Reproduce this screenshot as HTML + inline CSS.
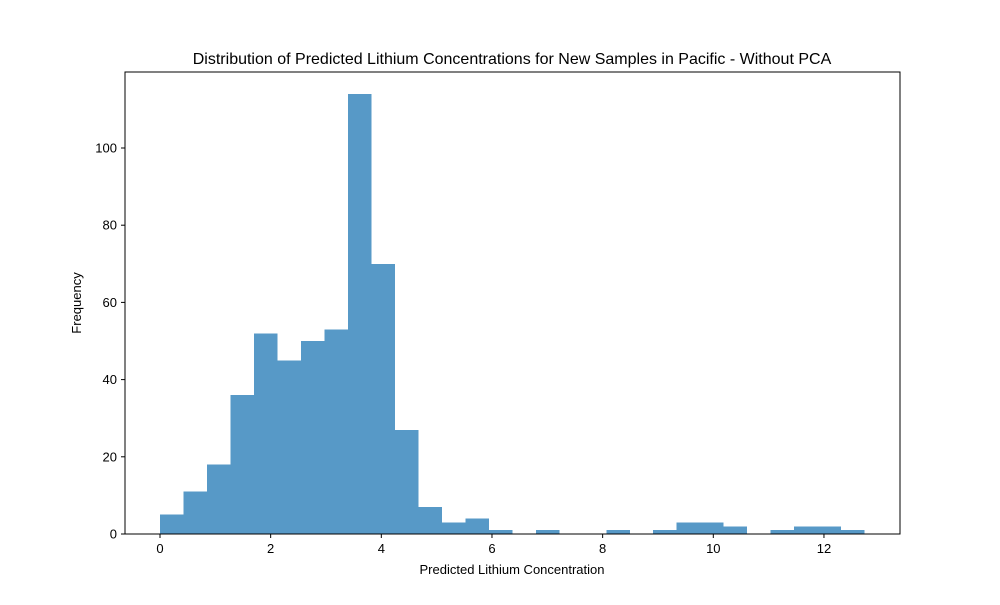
<!DOCTYPE html>
<html><head><meta charset="utf-8"><style>
body{margin:0;background:#fff;font-family:"Liberation Sans","DejaVu Sans",sans-serif}
</style></head><body>
<svg id="chart" width="1000" height="600" xmlns="http://www.w3.org/2000/svg">
<rect width="1000" height="600" fill="#fff"/>
<text x="512" y="64" text-anchor="middle" font-size="16">Distribution of Predicted Lithium Concentrations for New Samples in Pacific - Without PCA</text>
<g id="bars" shape-rendering="crispEdges"></g>
<rect x="125" y="72" width="775" height="462" fill="none" stroke="#000" stroke-width="1"/>
<g id="xt"></g><g id="yt"></g>
<text x="512" y="574" text-anchor="middle" font-size="13">Predicted Lithium Concentration</text>
<text transform="translate(81,303) rotate(-90)" text-anchor="middle" font-size="13">Frequency</text>
</svg>
<script>
const binStart = 0.0;
const binWidth = 0.4245;
const counts = [5,11,18,36,52,45,50,53,114,70,27,7,3,4,1,0,1,0,0,1,0,1,3,3,2,0,1,2,2,1];
const xTicks = [0,2,4,6,8,10,12];
const yTicks = [0,20,40,60,80,100];
const ns="http://www.w3.org/2000/svg";
const X=v=>160+v*55.33, Y=v=>534-v*3.86;
const bars=document.getElementById('bars');
counts.forEach((c,i)=>{
  if(!c) return;
  const r=document.createElementNS(ns,'rect');
  const x0=X(binStart+i*binWidth), x1=X(binStart+(i+1)*binWidth);
  r.setAttribute('x',x0);r.setAttribute('width',x1-x0);
  r.setAttribute('y',Y(c));r.setAttribute('height',Y(0)-Y(c));
  r.setAttribute('fill','#5799c7');
  
  
  bars.appendChild(r);
});
const xt=document.getElementById('xt');
xTicks.forEach(t=>{
  const l=document.createElementNS(ns,'line');
  l.setAttribute('x1',X(t));l.setAttribute('x2',X(t));l.setAttribute('y1',534);l.setAttribute('y2',538);l.setAttribute('stroke','#000');
  
  
  xt.appendChild(l);
  const s=document.createElementNS(ns,'text');
  s.setAttribute('x',X(t));s.setAttribute('y',553);s.setAttribute('text-anchor','middle');s.setAttribute('font-size','13');
  s.textContent=t;
  
  
  xt.appendChild(s);
});
const yt=document.getElementById('yt');
yTicks.forEach(t=>{
  const l=document.createElementNS(ns,'line');
  l.setAttribute('x1',121);l.setAttribute('x2',125);l.setAttribute('y1',Y(t));l.setAttribute('y2',Y(t));l.setAttribute('stroke','#000');
  
  
  yt.appendChild(l);
  const s=document.createElementNS(ns,'text');
  s.setAttribute('x',117);s.setAttribute('y',Y(t)+4.5);s.setAttribute('text-anchor','end');s.setAttribute('font-size','13');
  s.textContent=t;
  
  
  yt.appendChild(s);
});
</script>
</body></html>
